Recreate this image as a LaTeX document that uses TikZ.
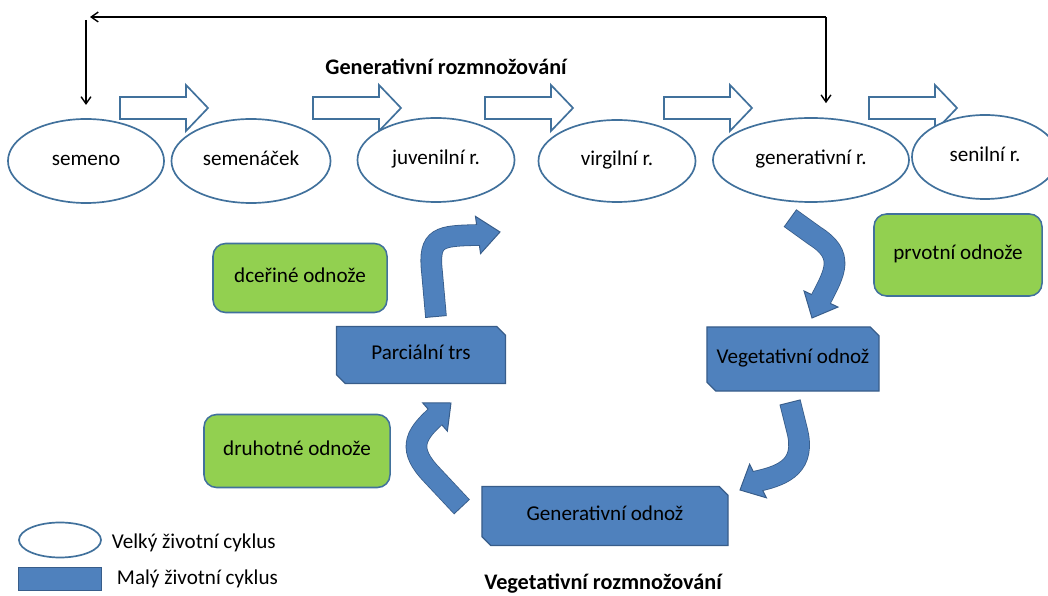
\documentclass[tikz,border=0pt]{standalone}
\usepackage{fontspec}
\setmainfont{Carlito}
\usetikzlibrary{shapes.geometric,shapes.misc,arrows.meta,calc}

\definecolor{ellblue}{HTML}{41719C}
\definecolor{boxblue}{HTML}{4F81BD}
\definecolor{boxedge}{HTML}{385D8A}
\definecolor{leafgreen}{HTML}{92D050}

% thick bent arrow: shaft path, base of head, tip
\newcommand{\fatarrow}[3]{%
  \draw[line width=0.54cm, boxedge] #1 (#2) -- ($(#2)!0.1cm!(#3)$);
  \filldraw[fill=boxblue, draw=boxedge, line width=0.7pt, line join=miter]
    ($(#2)!0.47cm!90:(#3)$) -- (#3) -- ($(#2)!0.47cm!-90:(#3)$) -- cycle;
  \draw[line width=0.5cm, boxblue, shorten <=0.7pt] #1 (#2) -- ($(#2)!0.1cm!(#3)$);
}

\tikzset{
  stage/.style={ellipse, draw=ellblue, line width=1.2pt, fill=white, inner sep=0pt,
    text height=10pt, text depth=3pt},
  odnoz/.style={rectangle, rounded corners=9pt, draw=ellblue, line width=1.1pt, fill=leafgreen, inner sep=0pt,
    text height=10pt, text depth=3pt},
  cyklus/.style={chamfered rectangle, chamfered rectangle corners={north east,south west},
    chamfered rectangle xsep=0.11cm, chamfered rectangle ysep=0.11cm,
    draw=boxedge, line width=0.8pt, fill=boxblue, inner sep=0pt,
    text height=10pt, text depth=3pt},
  stagearrow/.style={draw=ellblue, line width=1.2pt, fill=white, line join=miter},
  looparrow/.style={line width=1pt, -{Straight Barb[length=5pt,width=7pt]}},
  heading/.style={font=\fontsize{15.8pt}{19pt}\selectfont\bfseries}
}

\begin{document}
\begin{tikzpicture}[x=0.025cm, y=-0.025cm, font=\fontsize{15pt}{18pt}\selectfont]
  \useasboundingbox (0,0) rectangle (1048,596);

  % velky zivotni cyklus
  \foreach \x in {120,313,485,664,869}{
    \draw[stagearrow] (\x,97) -- ++(66,0) -- ++(0,-12) -- ++(22,23) -- ++(-22,23) -- ++(0,-12) -- ++(-66,0) -- cycle;
  }
  \node[stage, minimum width=3.9cm,   minimum height=2.1cm]  (semeno)    at (86,161)  {semeno};
  \node[stage, minimum width=3.975cm, minimum height=2.1cm]  (semenacek) at (251,161) {semenáček};
  \node[stage, minimum width=3.925cm, minimum height=2.1cm]  (juvenil)   at (436,160) {juvenilní r.};
  \node[stage, minimum width=3.925cm, minimum height=2.05cm] (virgil)    at (617,161) {virgilní r.};
  \node[stage, minimum width=4.9cm,   minimum height=2.1cm]  (generat)   at (811,160) {generativní r.};
  \node[stage, minimum width=3.65cm,  minimum height=2.1cm]  (senil)     at (985,157) {senilní r.};

  \node[heading] (gentitle) at (446,67) {Generativní rozmnožování};

  % navrat semene
  \coordinate (loopR) at (826,17);
  \coordinate (loopE) at (90,17);
  \coordinate (loopL) at (86,20);
  \draw[looparrow] (loopR) -- (loopE);
  \draw[looparrow, shorten >=0.35cm] (loopR) -- (loopR |- generat.north);
  \draw[looparrow, shorten >=0.33cm] (loopL) -- (loopL |- semeno.north);

  % maly zivotni cyklus
  \node[cyklus, minimum width=4.225cm, minimum height=1.425cm] (parcial)  at (421,355) {Parciální trs};
  \node[cyklus, minimum width=4.3cm,   minimum height=1.6cm]   (vegodnoz) at (793,359) {Vegetativní odnož};
  \node[cyklus, minimum width=6.15cm,  minimum height=1.475cm] (genodnoz) at (605,516) {Generativní odnož};

  \node[odnoz, minimum width=4.35cm, minimum height=1.725cm] (dcerine)  at (300,278) {dceřiné odnože};
  \node[odnoz, minimum width=4.2cm,  minimum height=2.05cm]  (prvotni)  at (958,255) {prvotní odnože};
  \node[odnoz, minimum width=4.65cm, minimum height=1.825cm] (druhotne) at (297,451) {druhotné odnože};

  \fatarrow{(790,218) -- (815,236) .. controls (845,255) and (835,272) ..}{821,299}{812,318}
  \fatarrow{(790,402) -- (797,430) .. controls (806,465) and (785,475) ..}{758,481}{740,490}
  \fatarrow{(462,507) -- (432,475) .. controls (408,450) and (414,436) ..}{435,417}{451,403}
  \fatarrow{(436,317) -- (432,272) .. controls (428,236) and (440,236) ..}{478,235}{500,232}

  \node[heading] (vegtitle) at (603,584) {Vegetativní rozmnožování};

  % legenda
  \node[stage, minimum width=2.05cm, minimum height=0.875cm] (legell) at (60,540) {};
  \node[cyklus, chamfered rectangle xsep=0.1cm, chamfered rectangle ysep=0.1cm,
        text height=0pt, text depth=0pt,
        minimum width=2.075cm, minimum height=0.575cm] (legbox) at (60,579) {};
  \node[anchor=west] (legvelky) at (107,543) {Velký životní cyklus};
  \node[anchor=west] (legmaly)  at (112,579) {Malý životní cyklus};
\end{tikzpicture}
\end{document}
